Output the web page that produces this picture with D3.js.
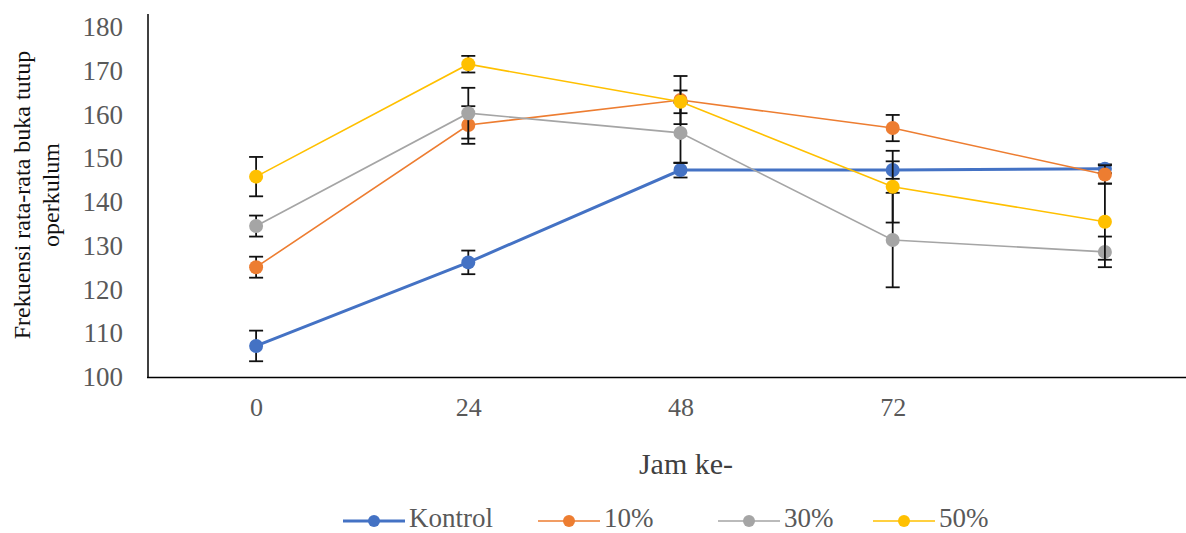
<!DOCTYPE html>
<html>
<head>
<meta charset="utf-8">
<script src="https://cdn.jsdelivr.net/npm/d3@7/dist/d3.min.js"></script>
<style>
  html, body { margin: 0; padding: 0; background: #fff; }
  svg text { font-family: "Liberation Serif", "Times New Roman", Times, "DejaVu Serif", serif; }
</style>
</head>
<body>
<svg id="chart" width="1186" height="533"></svg>
<script>
// ---- data ----
const categories = ["0", "24", "48", "72", ""];
const seriesNames = ["Kontrol", "10%", "30%", "50%"];
const seriesColors = ["#4472C4", "#ED7D31", "#A5A5A5", "#FFC000"];
const kontrol = [107.1, 126.2, 147.3, 147.3, 147.6];
const kontrolErr = [3.5, 2.7, 1.7, 2.0, 1.0];
const p10 = [125.1, 157.6, 163.3, 156.9, 146.3];
const p10Err = [2.4, 4.3, 5.5, 3.0, 2.1];
const p30 = [134.5, 160.3, 155.8, 131.3, 128.6];
const p30Err = [2.4, 5.8, 6.9, 10.8, 3.5];
const p50 = [145.8, 171.5, 162.9, 143.5, 135.5];
const p50Err = [4.5, 1.9, 2.6, 8.2, 8.7];
const yTicks = [100, 110, 120, 130, 140, 150, 160, 170, 180];

const seriesValues = [kontrol, p10, p30, p50];
const seriesErrors = [kontrolErr, p10Err, p30Err, p50Err];
const lineWidths = [3, 1.6, 1.6, 1.6];
const FONT = "'Liberation Serif', 'Times New Roman', Times, 'DejaVu Serif', serif";

const svg = d3.select("#chart");
const x = d3.scalePoint().domain(categories).range([150, 1211]).padding(0.5);
const y = d3.scaleLinear().domain([100, 180]).range([377, 27]);

// axes
const yAxis = svg.append("g").attr("transform", "translate(148,0)")
  .call(d3.axisLeft(y).tickValues(yTicks).tickSize(0).tickPadding(25));
yAxis.attr("font-family", FONT);
yAxis.select(".domain").remove();
yAxis.selectAll("text").attr("font-size", 27).attr("fill", "#595959").attr("font-family", FONT);

const xAxis = svg.append("g").attr("transform", "translate(0,377)")
  .call(d3.axisBottom(x).tickSize(0).tickPadding(21));
xAxis.attr("font-family", FONT);
xAxis.select(".domain").remove();
xAxis.selectAll("text").attr("font-size", 26).attr("fill", "#595959").attr("font-family", FONT);

svg.append("line").attr("x1", 148).attr("x2", 148).attr("y1", 14).attr("y2", 378)
  .attr("stroke", "#000").attr("stroke-width", 1.5);
svg.append("line").attr("x1", 147).attr("x2", 1186).attr("y1", 377.5).attr("y2", 377.5)
  .attr("stroke", "#000").attr("stroke-width", 1.5);

// titles
svg.append("text").attr("x", 686).attr("y", 474).attr("text-anchor", "middle")
  .attr("font-family", FONT).attr("font-size", 30).attr("fill", "#404040").text("Jam ke-");
svg.append("text").attr("transform", "translate(30,195) rotate(-90)").attr("text-anchor", "middle")
  .attr("font-family", FONT).attr("font-size", 24).attr("fill", "#111").text("Frekuensi rata-rata buka tutup");
svg.append("text").attr("transform", "translate(59,195) rotate(-90)").attr("text-anchor", "middle")
  .attr("font-family", FONT).attr("font-size", 24).attr("fill", "#111").text("operkulum");

// series
const line = d3.line().x((d, i) => x(categories[i])).y(d => y(d));
seriesValues.forEach((vals, s) => {
  svg.append("path").datum(vals).attr("d", line).attr("fill", "none")
    .attr("stroke", seriesColors[s]).attr("stroke-width", lineWidths[s]);
});
seriesValues.forEach((vals, s) => {
  const g = svg.append("g");
  vals.forEach((v, i) => {
    const cx = x(categories[i]);
    const e = seriesErrors[s][i];
    g.append("line").attr("x1", cx).attr("x2", cx).attr("y1", y(v + e)).attr("y2", y(v - e))
      .attr("stroke", "#111").attr("stroke-width", 1.8);
    [v + e, v - e].forEach(t => {
      g.append("line").attr("x1", cx - 7).attr("x2", cx + 7).attr("y1", y(t)).attr("y2", y(t))
        .attr("stroke", "#111").attr("stroke-width", 1.8);
    });
  });
  g.selectAll("circle").data(vals).join("circle")
    .attr("cx", (d, i) => x(categories[i])).attr("cy", d => y(d)).attr("r", 7)
    .attr("fill", seriesColors[s]);
});

// legend
const legendX = [374, 569, 749, 904];
seriesNames.forEach((name, s) => {
  const cx = legendX[s];
  svg.append("line").attr("x1", cx - 31).attr("x2", cx + 31).attr("y1", 521).attr("y2", 521)
    .attr("stroke", seriesColors[s]).attr("stroke-width", lineWidths[s]);
  svg.append("circle").attr("cx", cx).attr("cy", 521).attr("r", 6).attr("fill", seriesColors[s]);
  svg.append("text").attr("x", cx + 35).attr("y", 527).attr("font-size", 27)
    .attr("font-family", FONT).attr("fill", "#595959").text(name);
});
</script>
</body>
</html>
